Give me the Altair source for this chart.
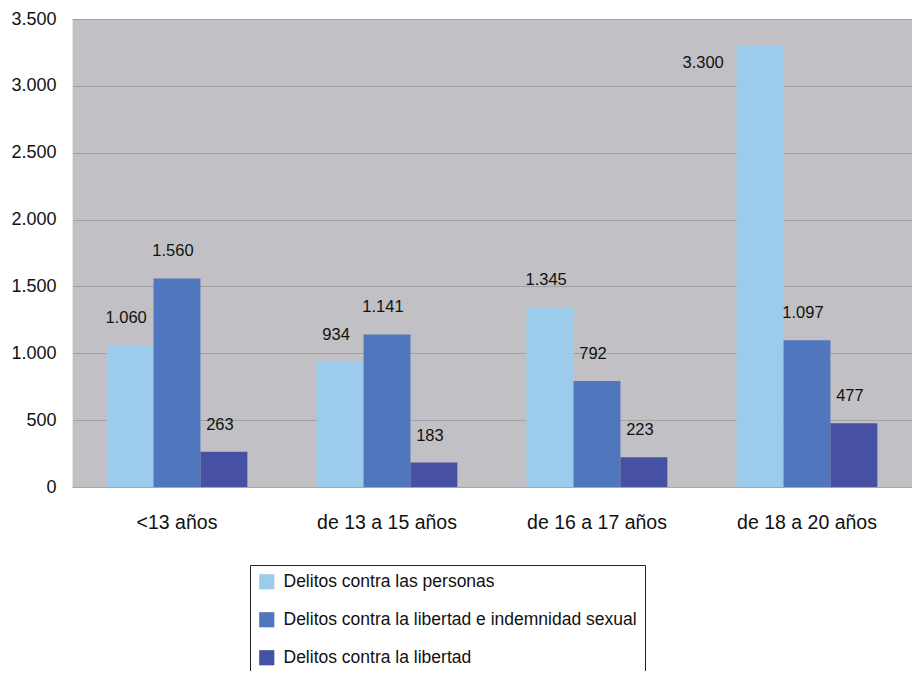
import altair as alt
import pandas as pd

categories = ["<13 años", "de 13 a 15 años", "de 16 a 17 años", "de 18 a 20 años"]
series = [
    "Delitos contra las personas",
    "Delitos contra la libertad e indemnidad sexual",
    "Delitos contra la libertad",
]
personas = [1060, 934, 1345, 3300]
sexual = [1560, 1141, 792, 1097]
libertad = [263, 183, 223, 477]
colors = ["#9CCBEC", "#5077BE", "#4751A3"]

rows = []
for vals, s in zip([personas, sexual, libertad], series):
    for c, v in zip(categories, vals):
        rows.append({"grupo": c, "serie": s, "valor": v})
df = pd.DataFrame(rows)

FONT = "Liberation Sans"
fmt = "replace(format(datum.valor, ',d'), ',', '.')"

x = alt.X("grupo:N", sort=categories, title=None,
          scale=alt.Scale(paddingInner=0.33, paddingOuter=0.165),
          axis=alt.Axis(labelFontSize=19.5, labelPadding=26, labelColor="#111",
                        ticks=False, domainColor="#a8a8ac", labelAngle=0,
                        labelFont=FONT))
xo = alt.XOffset("serie:N", sort=series, scale=alt.Scale(paddingInner=0, paddingOuter=0))
y = alt.Y("valor:Q", title=None,
          scale=alt.Scale(domain=[0, 3500], nice=False),
          axis=alt.Axis(values=list(range(0, 3501, 500)), labelFontSize=18,
                        labelColor="#111", labelPadding=16, ticks=False,
                        domainColor="#e6e6e8", gridColor="#a0a0a5", gridWidth=1,
                        labelFont=FONT,
                        labelExpr="replace(format(datum.value, ',d'), ',', '.')"))

base = alt.Chart(df)

bars = base.mark_bar().encode(
    x=x, xOffset=xo, y=y,
    color=alt.Color("serie:N", sort=series,
                    scale=alt.Scale(domain=series, range=colors),
                    legend=alt.Legend(title=None, orient="none", legendX=178, legendY=546,
                                      strokeColor="#222", fillColor="#ffffff",
                                      padding=8, symbolType="square", symbolSize=230,
                                      symbolStrokeWidth=0, labelFontSize=17.5,
                                      labelFont=FONT, labelColor="#111",
                                      rowPadding=19, symbolOffset=0, labelOffset=8,
                                      labelLimit=600)),
)

txt_normal = base.transform_filter("datum.valor < 3000").transform_calculate(
    lab=fmt
).mark_text(fontSize=16.5, font=FONT, color="#111", dx=-4, dy=-27, baseline="middle").encode(
    x=x, xOffset=xo, y=y, text="lab:N"
)

txt_top = base.transform_filter("datum.valor >= 3000").transform_calculate(
    lab=fmt
).mark_text(fontSize=16.5, font=FONT, color="#111", dx=-57, dy=17, baseline="middle").encode(
    x=x, xOffset=xo, y=y, text="lab:N"
)

chart = alt.layer(bars, txt_normal, txt_top).properties(
    width=840, height=468,
    autosize=alt.AutoSizeParams(type="none"),
    padding={"left": 64, "top": 11, "right": 0, "bottom": 184},
).configure(
    background="#ffffff"
).configure_view(
    fill="#C1C1C5", stroke=None
)

chart.save("out.html", embed_options={"renderer": "svg", "actions": False})
